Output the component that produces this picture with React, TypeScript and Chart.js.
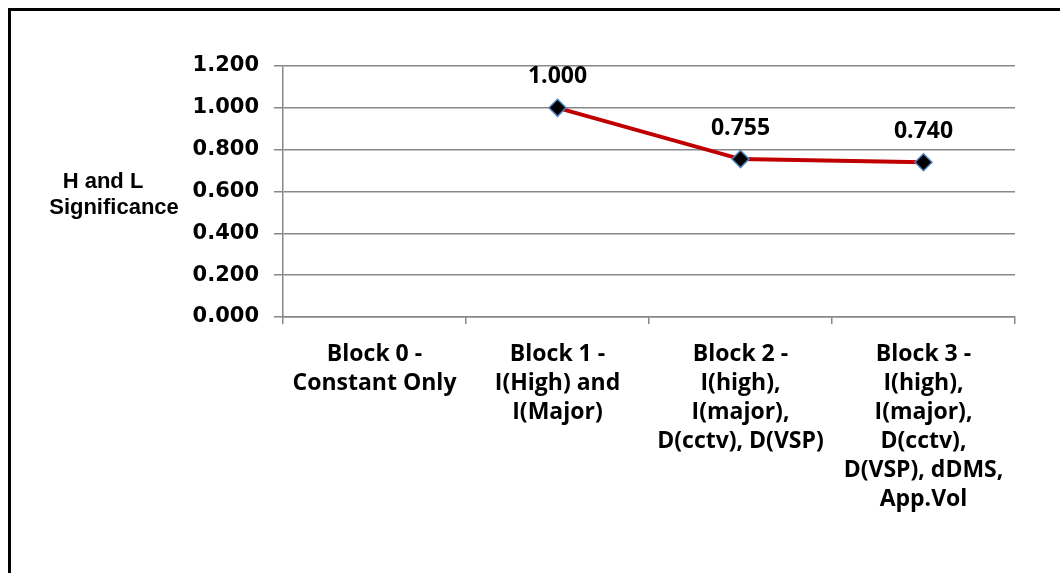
import React, { useEffect, useRef } from "react";
import { Chart, registerables } from "chart.js";

Chart.register(...registerables);

const categories: string[][] = [
  ["Block 0 -", "Constant Only"],
  ["Block 1 -", "I(High) and", "I(Major)"],
  ["Block 2 -", "I(high),", "I(major),", "D(cctv), D(VSP)"],
  ["Block 3 -", "I(high),", "I(major),", "D(cctv),", "D(VSP), dDMS,", "App.Vol"],
];
const significance: (number | null)[] = [null, 1.0, 0.755, 0.74];
const yMin = 0;
const yMax = 1.2;
const yStep = 0.2;
const yTitleLines = ["H and L", "Significance"];

const labelFont = "'Open Sans', Lato, sans-serif";
const tickFont = "'DejaVu Sans', sans-serif";
const arialFont = "'Liberation Sans', Arial, sans-serif";

export default function App() {
  const ref = useRef<HTMLCanvasElement | null>(null);

  useEffect(() => {
    if (!ref.current) return;
    const valueLabels = {
      id: "valueLabels",
      afterDatasetsDraw(chart: any) {
        const ctx = chart.ctx;
        const meta = chart.getDatasetMeta(0);
        ctx.save();
        ctx.font = `bold 23px ${labelFont}`;
        ctx.fillStyle = "#000";
        ctx.textAlign = "center";
        ctx.textBaseline = "middle";
        meta.data.forEach((pt: any, i: number) => {
          const v = significance[i];
          if (v == null) return;
          ctx.fillText(v.toFixed(3), pt.x, pt.y - 31);
        });
        ctx.restore();
      },
    };
    const yTitle = {
      id: "yTitle",
      afterDraw(chart: any) {
        const ctx = chart.ctx;
        const a = chart.chartArea;
        ctx.save();
        ctx.font = `bold 22px ${arialFont}`;
        ctx.fillStyle = "#000";
        ctx.textAlign = "center";
        ctx.textBaseline = "middle";
        const cy = (a.top + a.bottom) / 2;
        ctx.fillText(yTitleLines[0], a.left - 180, cy - 10);
        ctx.fillText(yTitleLines[1], a.left - 169, cy + 16);
        ctx.restore();
      },
    };
    const chart = new Chart(ref.current, {
      type: "line",
      data: {
        labels: categories,
        datasets: [
          {
            data: significance,
            borderColor: "#C00000",
            borderWidth: 4,
            pointStyle: "rectRot",
            pointRadius: 8.5,
            pointBackgroundColor: "#000",
            pointBorderColor: "#4F81BD",
            pointBorderWidth: 1.5,
            tension: 0,
            spanGaps: false,
          },
        ],
      },
      options: {
        responsive: false,
        animation: false,
        devicePixelRatio: 1,
        layout: { padding: { top: 66, right: 45, left: 0, bottom: 0 } },
        plugins: { legend: { display: false }, tooltip: { enabled: false } },
        scales: {
          x: {
            offset: true,
            grid: {
              offset: true,
              drawOnChartArea: false,
              drawTicks: true,
              tickLength: 7,
              color: "#888",
              lineWidth: 1.5,
            },
            border: { color: "#888", width: 1.5 },
            ticks: {
              maxRotation: 0,
              minRotation: 0,
              autoSkip: false,
              color: "#000",
              padding: 16,
              font: { family: labelFont, weight: "bold", size: 23, lineHeight: 1.26 },
            },
            afterFit(scale: any) {
              scale.height = 573 - 317;
            },
          },
          y: {
            min: yMin,
            max: yMax,
            grid: {
              color: "#888",
              lineWidth: 1.5,
              tickLength: 9,
            },
            border: { color: "#888", width: 1.5 },
            ticks: {
              stepSize: yStep,
              color: "#000",
              padding: 15,
              font: { family: tickFont, weight: "bold", size: 21 },
              callback: (v: any) => Number(v).toFixed(3),
            },
            afterFit(scale: any) {
              scale.width = 283;
            },
          },
        },
      },
      plugins: [valueLabels, yTitle],
    });
    return () => chart.destroy();
  }, []);

  return (
    <div style={{ position: "absolute", left: 0, top: 0, width: 1060, height: 573, background: "#fff", overflow: "hidden" }}>
      <canvas ref={ref} width={1060} height={573} style={{ position: "absolute", left: 0, top: 0, width: 1060, height: 573 }} />
      <div
        style={{
          position: "absolute",
          left: 8,
          top: 8,
          width: 1060,
          height: 573,
          borderLeft: "3px solid #000",
          borderTop: "3px solid #000",
          pointerEvents: "none",
        }}
      />
    </div>
  );
}
